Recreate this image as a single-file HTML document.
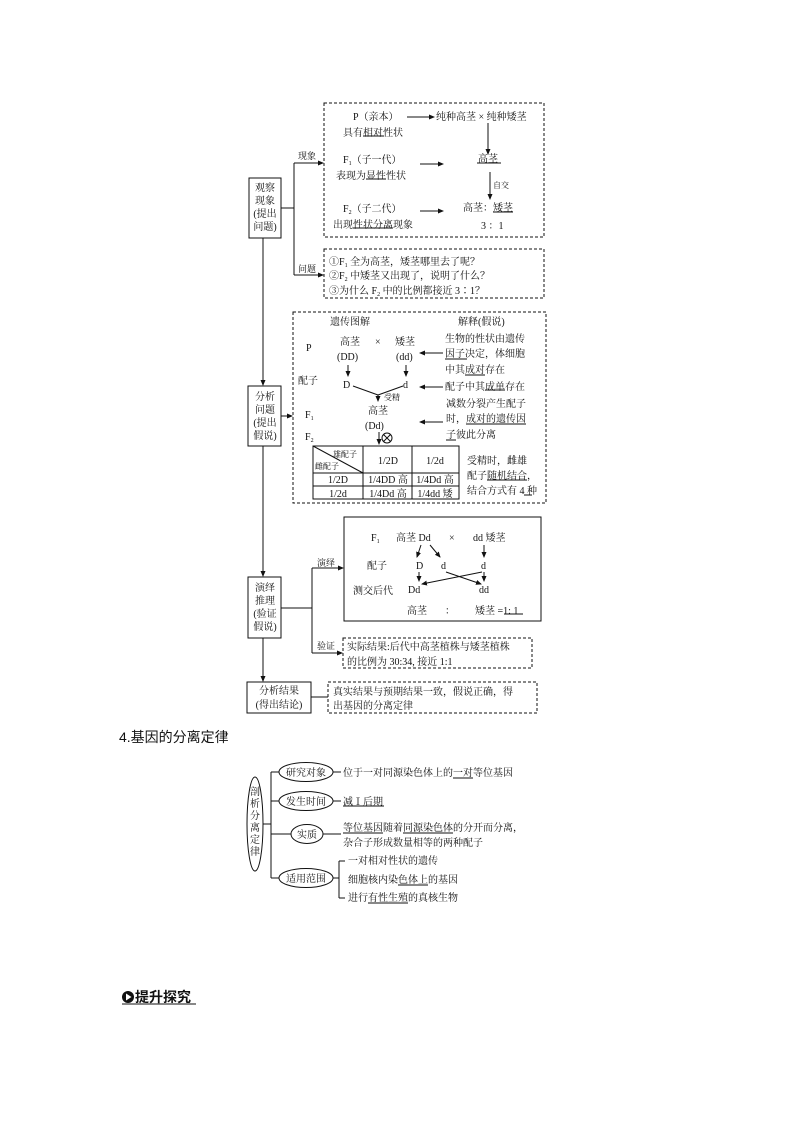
<!DOCTYPE html>
<html><head><meta charset="utf-8"><style>
html,body{margin:0;padding:0;background:#fff;}
svg{display:block;}
text{font-family:"Liberation Serif","Noto Serif CJK SC","Noto Sans CJK SC",serif;font-size:10px;fill:#111;}
.s{font-family:"Liberation Sans","Noto Sans CJK SC",sans-serif;}
</style></head><body>
<svg width="794" height="1123" viewBox="0 0 794 1123" xmlns="http://www.w3.org/2000/svg">
<defs><marker id="a" markerWidth="6" markerHeight="6" refX="5" refY="3" orient="auto" markerUnits="userSpaceOnUse"><path d="M0,0.5 L6,3 L0,5.5z" fill="#111"/></marker></defs>
<g stroke="#111" fill="none" stroke-width="1">
<rect x="249" y="178" width="32" height="60"/>
<rect x="248" y="386" width="33" height="60"/>
<rect x="248" y="577" width="33" height="61"/>
<rect x="247" y="682" width="64" height="31"/>
<g stroke-dasharray="3,2">
<rect x="324" y="103" width="220" height="134"/>
<rect x="324" y="249" width="220" height="49"/>
<rect x="293" y="312" width="253" height="191"/>
<rect x="343" y="638" width="189" height="30"/>
<rect x="328" y="682" width="209" height="31"/>
</g>
<rect x="344" y="517" width="197" height="104"/>
<line x1="263" y1="238" x2="263" y2="385" marker-end="url(#a)"/>
<line x1="263" y1="446" x2="263" y2="576" marker-end="url(#a)"/>
<line x1="263" y1="638" x2="263" y2="681" marker-end="url(#a)"/>
<line x1="281" y1="208" x2="294" y2="208"/>
<line x1="294" y1="163" x2="294" y2="275"/>
<line x1="294" y1="163" x2="323" y2="163" marker-end="url(#a)"/>
<line x1="294" y1="275" x2="323" y2="275" marker-end="url(#a)"/>
<line x1="281" y1="416" x2="292" y2="416" marker-end="url(#a)"/>
<line x1="281" y1="608" x2="312" y2="608"/>
<line x1="312" y1="568" x2="312" y2="653"/>
<line x1="312" y1="568" x2="343" y2="568" marker-end="url(#a)"/>
<line x1="312" y1="653" x2="342" y2="653" marker-end="url(#a)"/>
<line x1="311" y1="697" x2="328" y2="697"/>
<line x1="407" y1="117" x2="434" y2="117" marker-end="url(#a)"/>
<line x1="488" y1="123" x2="488" y2="154" marker-end="url(#a)"/>
<line x1="420" y1="164" x2="443" y2="164" marker-end="url(#a)"/>
<line x1="490" y1="172" x2="490" y2="199" marker-end="url(#a)"/>
<line x1="420" y1="211" x2="443" y2="211" marker-end="url(#a)"/>
<line x1="443" y1="353" x2="420" y2="353" marker-end="url(#a)"/>
<line x1="443" y1="387" x2="420" y2="387" marker-end="url(#a)"/>
<line x1="443" y1="422" x2="420" y2="422" marker-end="url(#a)"/>
<line x1="348" y1="365" x2="348" y2="376" marker-end="url(#a)"/>
<line x1="406" y1="365" x2="406" y2="376" marker-end="url(#a)"/>
<line x1="353" y1="386" x2="378" y2="395"/>
<line x1="403" y1="386" x2="378" y2="395"/>
<line x1="378" y1="395" x2="378" y2="401" marker-end="url(#a)"/>
<line x1="379" y1="432" x2="379" y2="444" marker-end="url(#a)"/>
<circle cx="387" cy="438" r="5"/>
<line x1="383.5" y1="434.5" x2="390.5" y2="441.5"/>
<line x1="390.5" y1="434.5" x2="383.5" y2="441.5"/>
<rect x="313" y="446" width="146" height="53"/>
<line x1="363" y1="446" x2="363" y2="499"/>
<line x1="412" y1="446" x2="412" y2="499"/>
<line x1="313" y1="473" x2="459" y2="473"/>
<line x1="313" y1="486" x2="459" y2="486"/>
<line x1="313" y1="446" x2="363" y2="473"/>
<line x1="421" y1="545" x2="417" y2="557" marker-end="url(#a)"/>
<line x1="430" y1="545" x2="440" y2="557" marker-end="url(#a)"/>
<line x1="484" y1="545" x2="484" y2="557" marker-end="url(#a)"/>
<line x1="419" y1="572" x2="419" y2="581" marker-end="url(#a)"/>
<line x1="484" y1="572" x2="484" y2="581" marker-end="url(#a)"/>
<line x1="446" y1="572" x2="481" y2="584" marker-end="url(#a)"/>
<line x1="482" y1="572" x2="422" y2="584" marker-end="url(#a)"/>
<line x1="363" y1="136" x2="384" y2="136"/>
<line x1="477" y1="163" x2="501" y2="163"/>
<line x1="366" y1="179" x2="386" y2="179"/>
<line x1="493" y1="212" x2="513" y2="212"/>
<line x1="353" y1="228" x2="393" y2="228"/>
<line x1="445" y1="359" x2="467" y2="359"/>
<line x1="465" y1="375" x2="485" y2="375"/>
<line x1="485" y1="390" x2="505" y2="390"/>
<line x1="466" y1="424" x2="526" y2="424"/>
<line x1="446" y1="440" x2="456" y2="440"/>
<line x1="487" y1="480" x2="527" y2="480"/>
<line x1="524" y1="495" x2="532" y2="495"/>
<line x1="504" y1="614" x2="523" y2="614"/>
<ellipse cx="255" cy="824" rx="8" ry="47"/>
<line x1="263" y1="824" x2="271" y2="824"/>
<line x1="271" y1="772" x2="271" y2="878"/>
<line x1="271" y1="772" x2="279" y2="772"/>
<line x1="271" y1="801" x2="279" y2="801"/>
<line x1="271" y1="834" x2="291" y2="834"/>
<line x1="271" y1="878" x2="279" y2="878"/>
<ellipse cx="306" cy="772" rx="27" ry="9.5"/>
<ellipse cx="306" cy="801" rx="27" ry="9.5"/>
<ellipse cx="307" cy="834" rx="16" ry="9.5"/>
<ellipse cx="306" cy="878" rx="27" ry="9.5"/>
<line x1="333" y1="772" x2="341" y2="772"/>
<line x1="333" y1="801" x2="341" y2="801"/>
<line x1="323" y1="834" x2="341" y2="834"/>
<line x1="333" y1="878" x2="339" y2="878"/>
<line x1="339" y1="861" x2="339" y2="898"/>
<line x1="339" y1="861" x2="345" y2="861"/>
<line x1="339" y1="898" x2="345" y2="898"/>
<line x1="453" y1="778" x2="473" y2="778"/>
<line x1="343" y1="806" x2="384" y2="806"/>
<line x1="343" y1="833" x2="383" y2="833"/>
<line x1="403" y1="833" x2="453" y2="833"/>
<line x1="398" y1="885" x2="428" y2="885"/>
<line x1="368" y1="903" x2="408" y2="903"/>
<line x1="122" y1="1004" x2="196" y2="1004"/>
</g>
<circle cx="128" cy="997" r="6" fill="#111"/>
<path d="M126,993.5 L131.5,997 L126,1000.5z" fill="#fff"/>

<text x="265" y="191" text-anchor="middle">观察</text>
<text x="265" y="204" text-anchor="middle">现象</text>
<text x="265" y="217" text-anchor="middle">(提出</text>
<text x="265" y="230" text-anchor="middle">问题)</text>
<text x="265" y="400" text-anchor="middle">分析</text>
<text x="265" y="413" text-anchor="middle">问题</text>
<text x="265" y="426" text-anchor="middle">(提出</text>
<text x="265" y="439" text-anchor="middle">假说)</text>
<text x="265" y="591" text-anchor="middle">演绎</text>
<text x="265" y="604" text-anchor="middle">推理</text>
<text x="265" y="617" text-anchor="middle">(验证</text>
<text x="265" y="630" text-anchor="middle">假说)</text>
<text x="279" y="694" text-anchor="middle">分析结果</text>
<text x="279" y="708" text-anchor="middle">(得出结论)</text>
<text x="298" y="159" style="font-size:9px">现象</text>
<text x="298" y="272" style="font-size:9px">问题</text>
<text x="317" y="566" style="font-size:9px">演绎</text>
<text x="317" y="649" style="font-size:9px">验证</text>

<text x="353" y="120">P（亲本）</text>
<text x="436" y="120">纯种高茎 × 纯种矮茎</text>
<text x="343" y="136">具有相对性状</text>
<text x="343" y="163">F<tspan style="font-size:6px" dy="2">1</tspan><tspan dy="-2">（子一代）</tspan></text>
<text x="478" y="162">高茎</text>
<text x="336" y="179">表现为显性性状</text>
<text x="493" y="188" style="font-size:8px">自交</text>
<text x="343" y="212">F<tspan style="font-size:6px" dy="2">2</tspan><tspan dy="-2">（子二代）</tspan></text>
<text x="463" y="211">高茎：矮茎</text>
<text x="333" y="228">出现性状分离现象</text>
<text x="481" y="229">3 ：1</text>
<text x="329" y="265">①F<tspan style="font-size:6px" dy="2">1</tspan><tspan dy="-2"> 全为高茎，矮茎哪里去了呢？</tspan></text>
<text x="329" y="279">②F<tspan style="font-size:6px" dy="2">2</tspan><tspan dy="-2"> 中矮茎又出现了，说明了什么？</tspan></text>
<text x="329" y="294">③为什么 F<tspan style="font-size:6px" dy="2">2</tspan><tspan dy="-2"> 中的比例都接近 3∶1？</tspan></text>
<text x="330" y="325">遗传图解</text>
<text x="458" y="325">解释(假说)</text>
<text x="306" y="351">P</text>
<text x="340" y="345">高茎</text>
<text x="375" y="345">×</text>
<text x="395" y="345">矮茎</text>
<text x="337" y="360">(DD)</text>
<text x="396" y="360">(dd)</text>
<text x="445" y="342">生物的性状由遗传</text>
<text x="445" y="357">因子决定，体细胞</text>
<text x="445" y="373">中其成对存在</text>
<text x="298" y="384">配子</text>
<text x="343" y="388">D</text>
<text x="403" y="388">d</text>
<text x="384" y="400" style="font-size:8px">受精</text>
<text x="445" y="390">配子中其成单存在</text>
<text x="305" y="418">F<tspan style="font-size:6px" dy="2">1</tspan></text>
<text x="368" y="414">高茎</text>
<text x="365" y="429">(Dd)</text>
<text x="446" y="407">减数分裂产生配子</text>
<text x="446" y="422">时，成对的遗传因</text>
<text x="446" y="438">子彼此分离</text>
<text x="305" y="440">F<tspan style="font-size:6px" dy="2">2</tspan></text>
<text x="333" y="457" style="font-size:8px">雄配子</text>
<text x="315" y="469" style="font-size:8px">雌配子</text>
<text x="388" y="464" text-anchor="middle">1/2D</text>
<text x="435" y="464" text-anchor="middle">1/2d</text>
<text x="338" y="483" text-anchor="middle">1/2D</text>
<text x="388" y="483" text-anchor="middle">1/4DD 高</text>
<text x="435" y="483" text-anchor="middle">1/4Dd 高</text>
<text x="338" y="497" text-anchor="middle">1/2d</text>
<text x="388" y="497" text-anchor="middle">1/4Dd 高</text>
<text x="435" y="497" text-anchor="middle">1/4dd 矮</text>
<text x="467" y="464">受精时，雌雄</text>
<text x="467" y="479">配子随机结合，</text>
<text x="467" y="494">结合方式有 4 种</text>
<text x="371" y="541">F<tspan style="font-size:6px" dy="2">1</tspan></text>
<text x="396" y="541">高茎 Dd</text>
<text x="449" y="541">×</text>
<text x="473" y="541">dd 矮茎</text>
<text x="367" y="569">配子</text>
<text x="416" y="569">D</text>
<text x="441" y="569">d</text>
<text x="481" y="569">d</text>
<text x="353" y="594">测交后代</text>
<text x="408" y="593">Dd</text>
<text x="479" y="593">dd</text>
<text x="407" y="614">高茎</text>
<text x="445" y="614">：</text>
<text x="475" y="614">矮茎 =1: 1</text>
<text x="347" y="650">实际结果:后代中高茎植株与矮茎植株</text>
<text x="347" y="665">的比例为 30:34, 接近 1:1</text>
<text x="333" y="695">真实结果与预期结果一致，假说正确，得</text>
<text x="333" y="709">出基因的分离定律</text>

<text x="119" y="742" class="s" style="font-size:14px">4.基因的分离定律</text>
<text x="255" y="795" text-anchor="middle">剖</text>
<text x="255" y="807" text-anchor="middle">析</text>
<text x="255" y="819" text-anchor="middle">分</text>
<text x="255" y="831" text-anchor="middle">离</text>
<text x="255" y="843" text-anchor="middle">定</text>
<text x="255" y="855" text-anchor="middle">律</text>
<text x="306" y="776" text-anchor="middle">研究对象</text>
<text x="306" y="805" text-anchor="middle">发生时间</text>
<text x="307" y="838" text-anchor="middle">实质</text>
<text x="306" y="882" text-anchor="middle">适用范围</text>
<text x="343" y="776">位于一对同源染色体上的一对等位基因</text>
<text x="343" y="805">减Ⅰ后期</text>
<text x="343" y="831">等位基因随着同源染色体的分开而分离，</text>
<text x="343" y="846">杂合子形成数量相等的两种配子</text>
<text x="348" y="864">一对相对性状的遗传</text>
<text x="348" y="883">细胞核内染色体上的基因</text>
<text x="348" y="901">进行有性生殖的真核生物</text>
<text x="135" y="1002" class="s" style="font-size:14px;font-weight:bold">提升探究</text>
</svg>
</body></html>
